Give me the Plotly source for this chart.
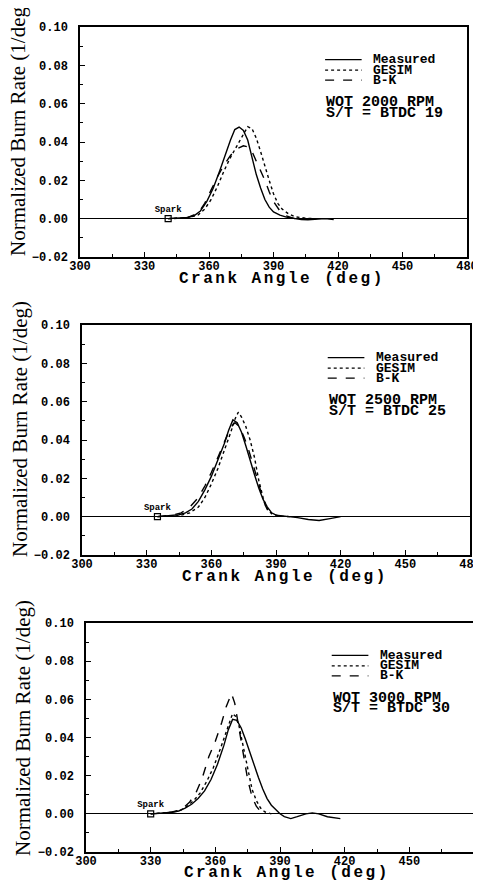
import plotly.graph_objects as go

# ---------------- data ----------------
# Panel 1: WOT 2000 RPM, S/T = BTDC 19
p1_meas_x = [341, 345, 350, 353, 356, 359, 362, 365, 368, 370, 372, 374, 376, 378, 380, 382, 384, 386, 388, 390, 393, 396, 400, 403, 406, 410, 414, 418]
p1_meas_y = [0, 0.0002, 0.0006, 0.0015, 0.004, 0.009, 0.016, 0.025, 0.035, 0.041, 0.0465, 0.0478, 0.046, 0.041, 0.032, 0.023, 0.016, 0.010, 0.006, 0.0035, 0.0018, 0.0008, 0.0, -0.0005, -0.0006, -0.0002, 0.0, -0.0005]
p1_gesim_x = [341, 350, 355, 358, 361, 364, 367, 370, 373, 376, 378, 380, 382, 384, 386, 388, 390, 392, 394, 397, 400, 405, 410]
p1_gesim_y = [0, 0.0004, 0.002, 0.005, 0.010, 0.017, 0.025, 0.032, 0.038, 0.044, 0.048, 0.047, 0.042, 0.035, 0.027, 0.020, 0.013, 0.008, 0.005, 0.0025, 0.001, 0.0002, 0]
p1_bk_x = [341, 350, 355, 358, 361, 364, 367, 370, 373, 376, 378, 380, 382, 384, 386, 388, 390, 393, 396, 400]
p1_bk_y = [0, 0.0006, 0.003, 0.008, 0.015, 0.022, 0.028, 0.033, 0.0365, 0.038, 0.0375, 0.035, 0.030, 0.025, 0.020, 0.014, 0.009, 0.004, 0.0015, 0.0]

# Panel 2: WOT 2500 RPM, S/T = BTDC 25
p2_meas_x = [335, 340, 345, 348, 351, 354, 357, 360, 363, 366, 368, 370, 372, 374, 376, 378, 380, 382, 384, 386, 388, 390, 395, 400, 405, 410, 415, 420]
p2_meas_y = [0, 0.0005, 0.001, 0.002, 0.004, 0.008, 0.014, 0.021, 0.029, 0.038, 0.045, 0.0505, 0.049, 0.044, 0.037, 0.029, 0.022, 0.015, 0.009, 0.005, 0.002, 0.0008, 0.0002, -0.0005, -0.0015, -0.002, -0.001, 0.0]
p2_gesim_x = [335, 345, 350, 354, 357, 360, 363, 366, 369, 371, 372.5, 374, 376, 378, 380, 382, 384, 386, 388, 392, 397]
p2_gesim_y = [0, 0.0005, 0.002, 0.005, 0.010, 0.017, 0.025, 0.034, 0.044, 0.051, 0.0545, 0.052, 0.047, 0.040, 0.031, 0.019, 0.010, 0.004, 0.0015, 0.0002, 0]
p2_bk_x = [335, 342, 346, 350, 354, 357, 360, 363, 366, 368, 370, 371, 373, 375, 377, 379, 381, 383, 385, 387, 389]
p2_bk_y = [0, 0.0008, 0.002, 0.005, 0.010, 0.016, 0.023, 0.031, 0.039, 0.044, 0.048, 0.049, 0.047, 0.042, 0.036, 0.029, 0.021, 0.013, 0.006, 0.0015, 0]

# Panel 3: WOT 3000 RPM, S/T = BTDC 30
p3_meas_x = [330, 335, 340, 343, 346, 349, 352, 355, 358, 361, 364, 366, 368, 370, 372, 374, 376, 378, 380, 382, 384, 386, 388, 390, 392, 395, 398, 402, 405, 408, 412, 418]
p3_meas_y = [0, 0.0003, 0.0008, 0.0015, 0.003, 0.005, 0.008, 0.012, 0.018, 0.026, 0.036, 0.044, 0.0495, 0.049, 0.045, 0.039, 0.032, 0.025, 0.019, 0.013, 0.008, 0.0045, 0.002, 0.0, -0.0015, -0.0025, -0.0015, 0.0, 0.0005, 0.0, -0.0015, -0.0025]
p3_gesim_x = [330, 340, 344, 347, 350, 353, 356, 359, 362, 365, 367, 368, 369.5, 371, 373, 375, 377, 379, 381, 383, 386]
p3_gesim_y = [0, 0.0008, 0.002, 0.004, 0.007, 0.011, 0.017, 0.024, 0.033, 0.043, 0.050, 0.0525, 0.051, 0.046, 0.035, 0.023, 0.013, 0.007, 0.003, 0.001, 0]
p3_bk_x = [330, 338, 342, 345, 348, 351, 354, 357, 360, 363, 365, 367.5, 369, 371, 373, 375, 377, 379, 381, 383]
p3_bk_y = [0, 0.0005, 0.0015, 0.003, 0.006, 0.011, 0.019, 0.030, 0.038, 0.048, 0.056, 0.063, 0.058, 0.045, 0.031, 0.018, 0.009, 0.004, 0.0012, 0]

spark_angles = [341, 335, 330]
case_line1 = ["WOT 2000 RPM", "WOT 2500 RPM", "WOT 3000 RPM"]
case_line2 = ["S/T = BTDC 19", "S/T = BTDC 25", "S/T = BTDC 30"]

series_names = ["Measured", "GESIM", "B-K"]
x_ticks = [300, 330, 360, 390, 420, 450, 480]
y_ticks = [-0.02, 0.0, 0.02, 0.04, 0.06, 0.08, 0.10]

panels = [
    (p1_meas_x, p1_meas_y, p1_gesim_x, p1_gesim_y, p1_bk_x, p1_bk_y),
    (p2_meas_x, p2_meas_y, p2_gesim_x, p2_gesim_y, p2_bk_x, p2_bk_y),
    (p3_meas_x, p3_meas_y, p3_gesim_x, p3_gesim_y, p3_bk_x, p3_bk_y),
]

# ---------------- layout geometry (window pixels) ----------------
OFF = 8                      # page body margin of the browser
W, H = 481 - OFF, 883 - OFF  # figure size so that it fits the window
box = [  # left, right, top, bottom in window px
    (80, 467, 27, 257),
    (82, 470, 325, 555),
    (86, 474, 623, 852),
]
xtitle_pos = [(282, 279), (285, 577), (287, 873)]
ytitle_pos = [(18, 128), (20, 429), (23, 728)]


def px_x(v):
    return (v - OFF) / W


def px_y(v):
    return 1 - (v - OFF) / H


MONO = "Liberation Mono"
SERIF = "Liberation Serif"
dashes = ["solid", "dot", "dash"]

fig = go.Figure()
layout = dict(width=W, height=H, margin=dict(l=0, r=0, t=0, b=0, autoexpand=False),
              paper_bgcolor="white", plot_bgcolor="white", showlegend=False)
annotations = []
shapes = []

for i, data in enumerate(panels):
    n = "" if i == 0 else str(i + 1)
    xa, ya = "x" + n, "y" + n
    L, R, T, B = box[i]
    for k in range(3):
        fig.add_trace(go.Scatter(x=data[2 * k], y=data[2 * k + 1], mode="lines",
                                 name=series_names[k], xaxis=xa, yaxis=ya,
                                 line=dict(color="black", width=1.4, dash=dashes[k])))
    # spark marker
    fig.add_trace(go.Scatter(x=[spark_angles[i]], y=[0], mode="markers+text", text=["Spark"],
                             textposition="top center", xaxis=xa, yaxis=ya,
                             textfont=dict(family=MONO, size=9, color="black", weight="bold"),
                             marker=dict(symbol="square-open", size=6, color="black", line=dict(width=1.2)),
                             showlegend=False))
    layout["xaxis" + n] = dict(
        domain=[px_x(L), px_x(R)], range=[300, 480], anchor=ya, automargin=False,
        tickvals=x_ticks, ticks="inside", ticklen=5, tickwidth=1.2, tickcolor="black",
        minor=dict(dtick=15, tick0=300, ticks="inside", ticklen=3, tickcolor="black"),
        showline=True, linecolor="black", linewidth=1.5, mirror=True,
        showgrid=False, zeroline=False, ticklabelstandoff=-3,
        tickfont=dict(family=MONO, size=12, color="black", weight="bold"))
    layout["yaxis" + n] = dict(
        domain=[px_y(B), px_y(T)], range=[-0.02, 0.10], anchor=xa, automargin=False,
        tickvals=y_ticks, tickformat=".2f", ticks="inside", ticklen=5, tickwidth=1.2, tickcolor="black",
        minor=dict(dtick=0.01, tick0=0, ticks="inside", ticklen=3, tickcolor="black"),
        showline=True, linecolor="black", linewidth=1.5, mirror=True,
        showgrid=False, zeroline=True, zerolinecolor="black", zerolinewidth=1.4,
        ticklabelstandoff=8,
        tickfont=dict(family=MONO, size=12, color="black", weight="bold"))
    # axis titles
    annotations.append(dict(text='<span style="letter-spacing:2.5px">Crank Angle (deg)</span>',
                            x=px_x(xtitle_pos[i][0]), y=px_y(xtitle_pos[i][1]),
                            xref="paper", yref="paper", showarrow=False, xanchor="center", yanchor="middle",
                            font=dict(family=MONO, size=16, color="black", weight="bold")))
    annotations.append(dict(text="Normalized Burn Rate (1/deg)", x=px_x(ytitle_pos[i][0]), y=px_y(ytitle_pos[i][1]),
                            xref="paper", yref="paper", showarrow=False, textangle=-90,
                            xanchor="center", yanchor="middle",
                            font=dict(family=SERIF, size=21, color="black")))
    # legend (in data coordinates)
    leg_y = [0.083, 0.0775, 0.0723]
    for k in range(3):
        shapes.append(dict(type="line", xref=xa, yref=ya, x0=414, x1=431, y0=leg_y[k], y1=leg_y[k],
                           line=dict(color="black", width=1.3, dash=dashes[k])))
        annotations.append(dict(text=series_names[k], x=435.5, y=leg_y[k], xref=xa, yref=ya,
                                showarrow=False, xanchor="left", yanchor="middle",
                                font=dict(family=MONO, size=13, color="black", weight="bold")))
    annotations.append(dict(text=case_line1[i], x=413.5, y=0.0605, xref=xa, yref=ya,
                            showarrow=False, xanchor="left", yanchor="middle",
                            font=dict(family=MONO, size=15, color="black", weight="bold")))
    annotations.append(dict(text=case_line2[i], x=413.5, y=0.0550, xref=xa, yref=ya,
                            showarrow=False, xanchor="left", yanchor="middle",
                            font=dict(family=MONO, size=15, color="black", weight="bold")))

layout["annotations"] = annotations
layout["shapes"] = shapes
fig.update_layout(**layout)
fig.write_html("out.html")
